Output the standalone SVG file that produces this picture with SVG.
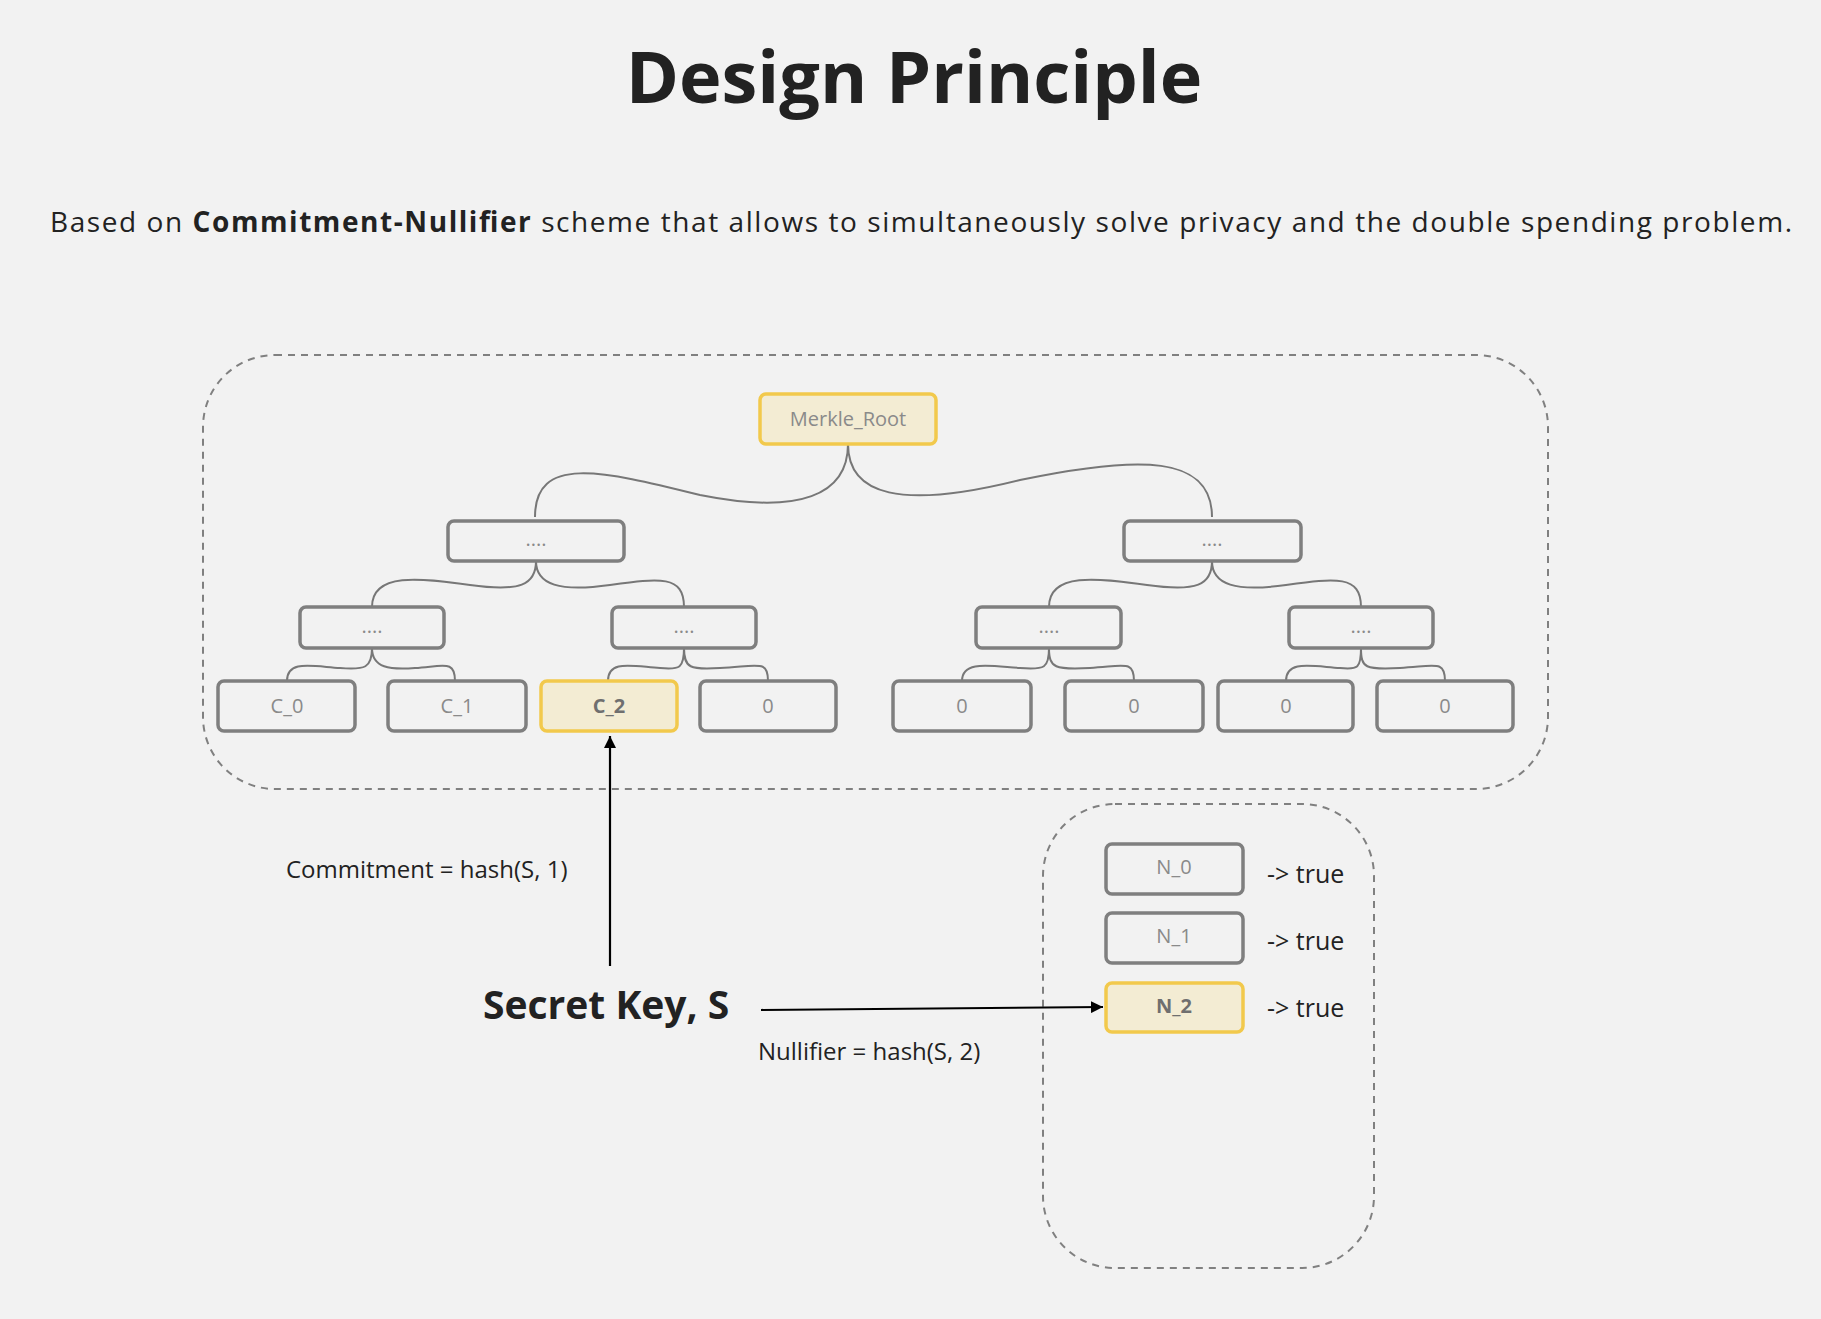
<svg xmlns="http://www.w3.org/2000/svg" width="1821" height="1319" viewBox="0 0 1821 1319">
<defs>
<style>
.t{font-family:"Open Sans","Liberation Sans",sans-serif;fill:#222}
.b{fill:none;stroke:#7f7f7f;stroke-width:3.5}
.y{fill:#f3ecd3;stroke:#f2c94c;stroke-width:3.5}
.lb{font-family:"Open Sans","Liberation Sans",sans-serif;font-size:20px;fill:#8a8a8a;text-anchor:middle}
.lbb{font-family:"Open Sans","Liberation Sans",sans-serif;font-size:20px;fill:#6f6f6f;font-weight:bold;text-anchor:middle}
.d{fill:none;stroke:#808080;stroke-width:2;stroke-dasharray:7 6}
.c{fill:none;stroke:#777;stroke-width:2}
.a{fill:none;stroke:#000;stroke-width:2.2}
</style>
<marker id="ar" viewBox="0 0 10 10" refX="10" refY="5" markerWidth="12" markerHeight="12" markerUnits="userSpaceOnUse" orient="auto"><path d="M0,0L10,5L0,10z" fill="#000"/></marker>
</defs>
<rect width="1821" height="1319" fill="#f2f2f2"/>
<text class="t" x="914" y="103" font-size="72" font-weight="bold" text-anchor="middle">Design Principle</text>
<text class="t" x="50" y="232" font-size="28" textLength="1742">Based on <tspan font-weight="bold">Commitment-Nullifier</tspan> scheme that allows to  simultaneously solve privacy and the double spending problem.</text>
<rect class="d" x="203" y="355" width="1345" height="434" rx="72"/>
<rect class="d" x="1043" y="804" width="331" height="464" rx="72"/>
<g id="connectors">
<path class="c" d="M535,517 C535,455 600,470 700,495 C800,515 848,495 848,444 C848,495 900,510 1020,480 C1140,455 1212,455 1212,517"/>
<path class="c" d="M372,607 C372,572 420,578 470,585 C520,592 536,585 536,561 C536,585 560,592 610,585 C660,578 684,575 684,607"/>
<path class="c" d="M1049,607 C1049,572 1097,578 1147,585 C1197,592 1212,585 1212,561 C1212,585 1236,592 1286,585 C1336,578 1361,575 1361,607"/>
<path class="c" d="M287,681 C287,660 310,666 340,668 C365,670 372,668 372,648 C372,668 390,670 415,668 C445,666 455,660 455,681"/>
<path class="c" d="M608,681 C608,660 630,666 660,668 C680,670 684,668 684,648 C684,668 690,670 720,668 C760,666 768,660 768,681"/>
<path class="c" d="M962,681 C962,660 990,666 1020,668 C1045,670 1049,668 1049,648 C1049,668 1055,670 1090,668 C1125,666 1134,660 1134,681"/>
<path class="c" d="M1286,681 C1286,660 1310,666 1340,668 C1358,670 1361,668 1361,648 C1361,668 1365,670 1400,668 C1436,666 1445,660 1445,681"/>
<path class="a" d="M610,966 L610,736" marker-end="url(#ar)"/>
<path class="a" d="M761,1010 L1103,1007" marker-end="url(#ar)"/>
</g>
<g id="root"><rect class="y" x="760" y="394" width="176" height="50" rx="6"/><text class="lb" x="848" y="426">Merkle_Root</text></g>
<g id="l1a"><rect class="b" x="448" y="521" width="176" height="40" rx="6"/><text class="lb" x="536" y="546">....</text></g>
<g id="l1b"><rect class="b" x="1124" y="521" width="177" height="40" rx="6"/><text class="lb" x="1212" y="546">....</text></g>
<g id="l2a"><rect class="b" x="300" y="607" width="144" height="41" rx="6"/><text class="lb" x="372" y="633">....</text></g>
<g id="l2b"><rect class="b" x="612" y="607" width="144" height="41" rx="6"/><text class="lb" x="684" y="633">....</text></g>
<g id="l2c"><rect class="b" x="976" y="607" width="145" height="41" rx="6"/><text class="lb" x="1049" y="633">....</text></g>
<g id="l2d"><rect class="b" x="1289" y="607" width="144" height="41" rx="6"/><text class="lb" x="1361" y="633">....</text></g>
<g id="c0"><rect class="b" x="218" y="681" width="137" height="50" rx="6"/><text class="lb" x="287" y="713">C_0</text></g>
<g id="c1"><rect class="b" x="388" y="681" width="138" height="50" rx="6"/><text class="lb" x="457" y="713">C_1</text></g>
<g id="c2"><rect class="y" x="541" y="681" width="136" height="50" rx="6"/><text class="lbb" x="609" y="713">C_2</text></g>
<g id="c3"><rect class="b" x="700" y="681" width="136" height="50" rx="6"/><text class="lb" x="768" y="713">0</text></g>
<g id="c4"><rect class="b" x="893" y="681" width="138" height="50" rx="6"/><text class="lb" x="962" y="713">0</text></g>
<g id="c5"><rect class="b" x="1065" y="681" width="138" height="50" rx="6"/><text class="lb" x="1134" y="713">0</text></g>
<g id="c6"><rect class="b" x="1218" y="681" width="135" height="50" rx="6"/><text class="lb" x="1286" y="713">0</text></g>
<g id="c7"><rect class="b" x="1377" y="681" width="136" height="50" rx="6"/><text class="lb" x="1445" y="713">0</text></g>
<g id="n0"><rect class="b" x="1106" y="844" width="137" height="50" rx="6"/><text class="lb" x="1174" y="874">N_0</text></g>
<g id="n1"><rect class="b" x="1106" y="913" width="137" height="50" rx="6"/><text class="lb" x="1174" y="943">N_1</text></g>
<g id="n2"><rect class="y" x="1106" y="983" width="137" height="49" rx="6"/><text class="lbb" x="1174" y="1013">N_2</text></g>
<text class="t" x="1267" y="883" font-size="25">-&gt; true</text>
<text class="t" x="1267" y="950" font-size="25">-&gt; true</text>
<text class="t" x="1267" y="1017" font-size="25">-&gt; true</text>
<text class="t" x="286" y="878" font-size="24">Commitment = hash(S, 1)</text>
<text class="t" x="758" y="1060" font-size="24">Nullifier = hash(S, 2)</text>
<text class="t" x="483" y="1019" font-size="39" font-weight="bold">Secret Key, S</text>
</svg>
